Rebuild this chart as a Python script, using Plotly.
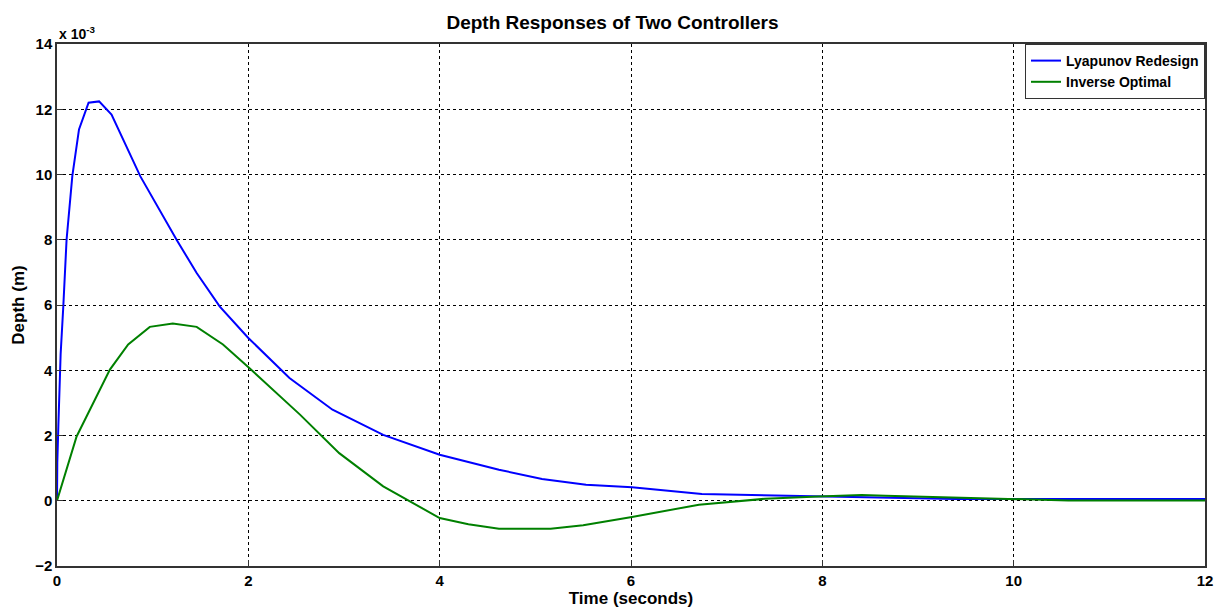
import plotly.graph_objects as go

# Values in units of 1e-3 m
t_lyap = [0, 0.003, 0.014, 0.038, 0.066, 0.10, 0.16, 0.23, 0.33, 0.44, 0.57, 0.87, 1.25, 1.46,
          1.70, 2.0, 2.43, 2.88, 3.41, 4.0, 4.62, 5.07, 5.53, 6.01, 6.74, 7.23, 7.96, 8.5,
          9.39, 10.0, 10.5, 12.0]
d_lyap = [0, 1.17, 2.28, 4.5, 5.96, 8.0, 9.95, 11.38, 12.2, 12.24, 11.84, 9.95, 8.0, 6.98,
          5.96, 4.99, 3.76, 2.79, 2.02, 1.41, 0.95, 0.67, 0.49, 0.41, 0.21, 0.18, 0.13, 0.1,
          0.05, 0.05, 0.05, 0.05]

t_inv = [0, 0.205, 0.553, 0.744, 0.97, 1.21, 1.46, 1.735, 2.01, 2.54, 2.95, 3.41, 4.0, 4.3,
         4.62, 5.16, 5.5, 6.01, 6.71, 7.4, 7.96, 8.41, 8.66, 9.63, 10.57, 12.0]
d_inv = [0, 1.97, 4.02, 4.79, 5.33, 5.43, 5.33, 4.79, 4.07, 2.64, 1.46, 0.44, -0.53, -0.72,
         -0.86, -0.86, -0.75, -0.5, -0.12, 0.06, 0.13, 0.18, 0.15, 0.08, 0.01, 0.01]

x_ticks = [0, 2, 4, 6, 8, 10, 12]
y_ticks = [-2, 0, 2, 4, 6, 8, 10, 12, 14]

FONT = "Liberation Sans"

fig = go.Figure()
fig.add_trace(go.Scatter(x=t_lyap, y=d_lyap, mode="lines", name="<b>Lyapunov Redesign</b>",
                         line=dict(color="#0000ff", width=2)))
fig.add_trace(go.Scatter(x=t_inv, y=d_inv, mode="lines", name="<b>Inverse Optimal</b>",
                         line=dict(color="#008000", width=2)))

axis_common = dict(
    showgrid=True, gridcolor="#000000", griddash="3px,3px", gridwidth=1,
    showline=True, linecolor="#333333", linewidth=1.5, mirror=True,
    ticks="inside", ticklen=6, tickcolor="#333333",
    zeroline=False,
    tickfont=dict(family=FONT, size=15, color="#000000", weight="bold"),
)

fig.update_layout(
    width=1225, height=616,
    margin=dict(l=57, r=18, t=44, b=50),
    paper_bgcolor="white", plot_bgcolor="white",
    title=dict(text="<b>Depth Responses of Two Controllers</b>", x=0.5, xanchor="center",
               y=0.963, yanchor="middle",
               font=dict(family=FONT, size=19, color="#000000")),
    xaxis=dict(range=[0, 12], tickvals=x_ticks,
               title=dict(text="<b>Time (seconds)</b>", standoff=2,
                          font=dict(family=FONT, size=17, color="#000000")),
               **axis_common),
    yaxis=dict(range=[-2, 14], tickvals=y_ticks,
               title=dict(text="<b>Depth (m)</b>", standoff=6,
                          font=dict(family=FONT, size=17, color="#000000")),
               **axis_common),
    legend=dict(x=1, y=1, xanchor="right", yanchor="top",
                bgcolor="white", bordercolor="#333333", borderwidth=1,
                font=dict(family=FONT, size=14, color="#000000"),
                tracegroupgap=0),
    showlegend=True,
)

fig.add_annotation(text="<b>x 10<sup>-3</sup></b>", xref="paper", yref="paper",
                   x=0, y=1, xanchor="left", yanchor="bottom", showarrow=False,
                   font=dict(family=FONT, size=14, color="#000000"), yshift=0)

fig.write_html("out.html")
